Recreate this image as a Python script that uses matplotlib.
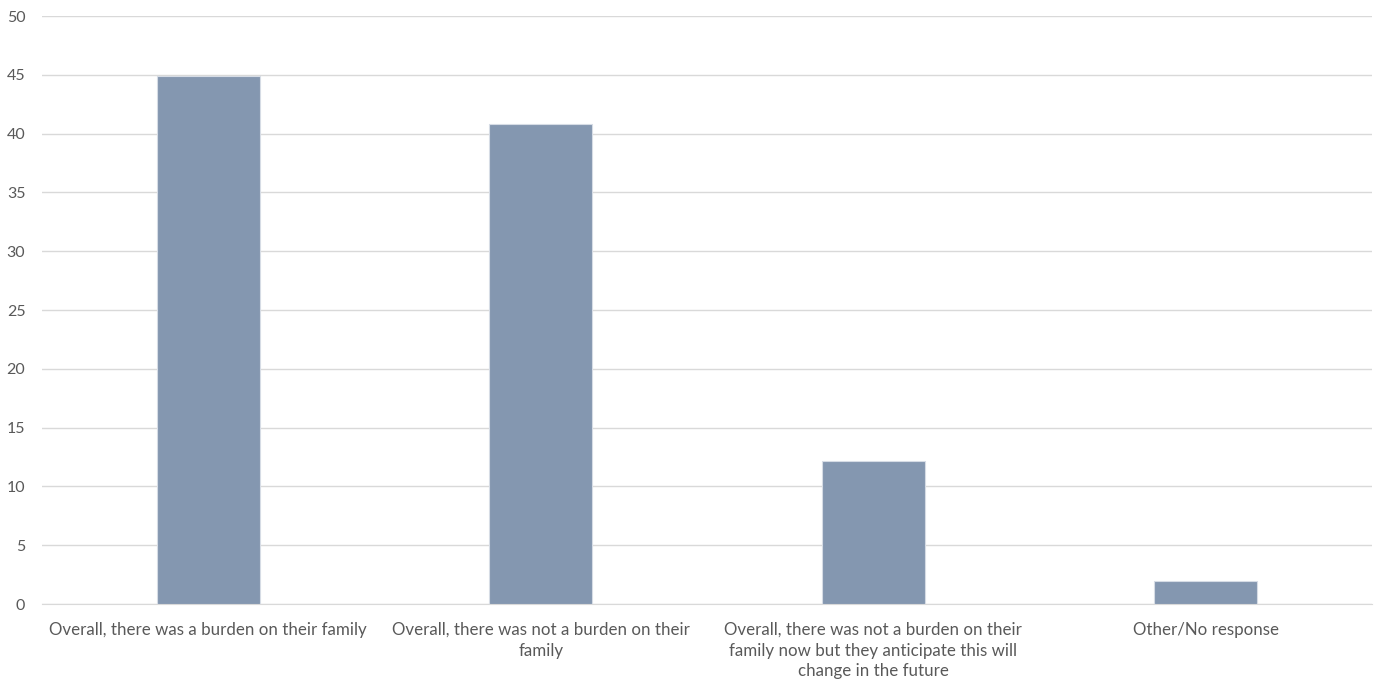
import matplotlib.pyplot as plt
import numpy as np

plt.rcParams['font.family'] = ['Lato', 'DejaVu Sans']

categories = [
    "Overall, there was a burden on their family",
    "Overall, there was not a burden on their\nfamily",
    "Overall, there was not a burden on their\nfamily now but they anticipate this will\nchange in the future",
    "Other/No response",
]
values = [44.9, 40.8, 12.2, 2.0]
yticks = [0, 5, 10, 15, 20, 25, 30, 35, 40, 45, 50]

fig = plt.figure(figsize=(13.77, 6.81), dpi=100)
ax = fig.add_axes([0.0305, 0.113, 0.966, 0.8635])

x = np.arange(len(categories))
ax.bar(x, values, width=0.31, color='#8497B0', edgecolor='#d6dce5',
       linewidth=0.8, zorder=3)

ax.set_xlim(-0.5, len(categories) - 0.5)
ax.set_ylim(0, 50)
ax.set_yticks(yticks)
ax.set_xticks(x)
ax.set_xticklabels(categories, fontsize=12.2, color='#595959', linespacing=1.35)
ax.tick_params(axis='y', labelsize=11.5, labelcolor='#595959', length=0, pad=12)
ax.tick_params(axis='x', length=0, pad=13)

ax.grid(axis='y', color='#d9d9d9', linewidth=1, zorder=0)
for s in ['top', 'right', 'left']:
    ax.spines[s].set_visible(False)
ax.spines['bottom'].set_color('#d9d9d9')

fig.savefig('out.png', dpi=100)
